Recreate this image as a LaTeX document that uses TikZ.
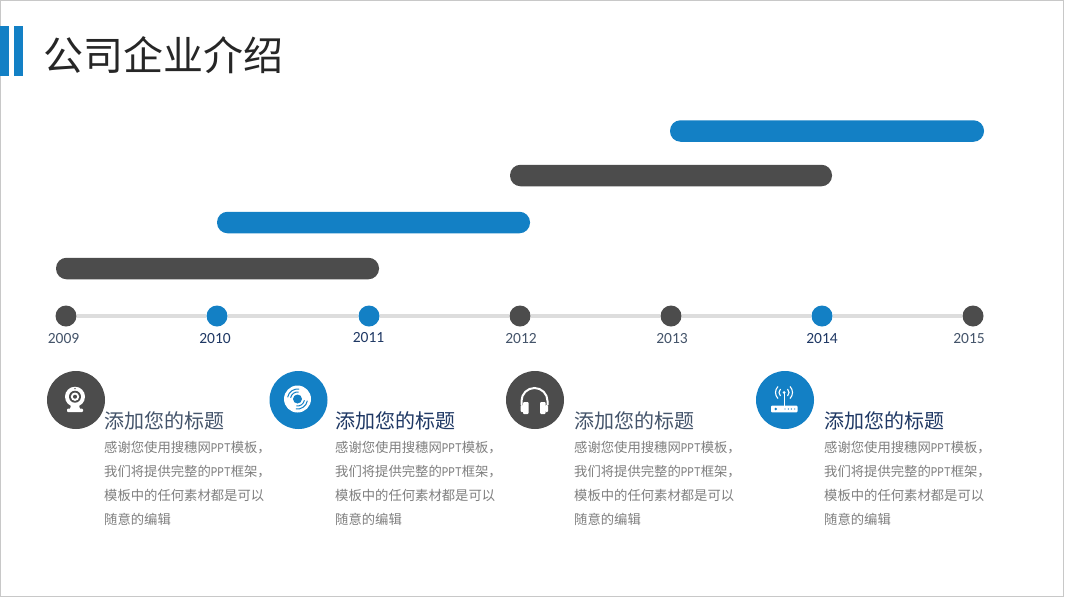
\documentclass[tikz,border=0pt]{standalone}
\usepackage{fontspec}
\setmainfont{Noto Sans CJK SC}
\newfontfamily\yearfont{Carlito}
\newfontfamily\latinmono{Liberation Mono}
\definecolor{myblue}{HTML}{1380C5}
\definecolor{mydark}{HTML}{4C4C4C}
\definecolor{myline}{HTML}{DDDDDD}
\definecolor{myframe}{HTML}{C8C8C8}
\definecolor{mytitle}{HTML}{44546A}
\definecolor{mynavy}{HTML}{1F3864}
\definecolor{mybody}{HTML}{7F7F7F}
\newcommand{\ppt}{\scalebox{.83}[1]{\latinmono\fontsize{13.33}{13.33}\selectfont PPT}}
\newcommand{\bodytext}{感谢您使用搜穗网\ppt 模板，\\我们将提供完整的\ppt 框架，\\模板中的任何素材都是可以\\随意的编辑}
\begin{document}
\begin{tikzpicture}[x=1pt, y=-1pt,
	bar/.style={rounded corners=10.5pt, inner sep=0pt, minimum height=21.5pt},
	dot/.style={circle, inner sep=0pt, minimum width=21pt},
	year/.style={inner sep=0pt, font=\yearfont\fontsize{15.5}{15.5}\selectfont},
	badge/.style={circle, inner sep=0pt, minimum width=58pt},
	heading/.style={anchor=west, inner sep=0pt, font=\fontsize{20}{20}\selectfont},
	body/.style={anchor=north west, inner sep=0pt, align=left, text=mybody, font=\fontsize{13.33}{24}\selectfont},
	icon/.style={white, line width=1.2pt}]

	\useasboundingbox (0,0) rectangle (1067,600);
	\fill[white] (0,0) rectangle (1067,600);
	\draw[myframe, line width=1pt] (0.5,0.5) rectangle (1063.5,596.5);

	% header
	\fill[myblue] (0,26) rectangle (9,76);
	\fill[myblue] (13.5,26) rectangle (22.5,76);
	\node[anchor=west, inner sep=0pt, text=black!85, font=\fontsize{40}{40}\selectfont] (head) at (43.5,55) {公司企业介绍};

	% bars
	\node[bar, fill=myblue, minimum width=314pt] (bar4) at (827,131) {};
	\node[bar, fill=mydark, minimum width=322pt] (bar3) at (671,175.5) {};
	\node[bar, fill=myblue, minimum width=313pt] (bar2) at (373.5,222.5) {};
	\node[bar, fill=mydark, minimum width=323pt] (bar1) at (217.5,268.5) {};

	% timeline
	\node[dot, fill=mydark] (d2009) at (66,316) {};
	\node[dot, fill=myblue] (d2010) at (217,316) {};
	\node[dot, fill=myblue] (d2011) at (369,316) {};
	\node[dot, fill=mydark] (d2012) at (520,316) {};
	\node[dot, fill=mydark] (d2013) at (671,316) {};
	\node[dot, fill=myblue] (d2014) at (822,316) {};
	\node[dot, fill=mydark] (d2015) at (973,316) {};
	\draw[myline, line width=4pt] (d2009) -- (d2010);
	\draw[myline, line width=4pt] (d2010) -- (d2011);
	\draw[myline, line width=4pt] (d2011) -- (d2012);
	\draw[myline, line width=4pt] (d2012) -- (d2013);
	\draw[myline, line width=4pt] (d2013) -- (d2014);
	\draw[myline, line width=4pt] (d2014) -- (d2015);

	\node[year, text=mytitle] (y2009) at (63.5,339) {2009};
	\node[year, text=mynavy] (y2010) at (215,339) {2010};
	\node[year, text=mynavy] (y2011) at (368.5,338) {2011};
	\node[year, text=mytitle] (y2012) at (521,339) {2012};
	\node[year, text=mytitle] (y2013) at (672,339) {2013};
	\node[year, text=mynavy] (y2014) at (822,339) {2014};
	\node[year, text=mytitle] (y2015) at (969,339) {2015};

	% badges
	\node[badge, fill=mydark] (b1) at (76,400) {};
	\node[badge, fill=myblue] (b2) at (298.5,400) {};
	\node[badge, fill=mydark] (b3) at (535,400) {};
	\node[badge, fill=myblue] (b4) at (785,400) {};

	% webcam
	\fill[white] (75,396.7) circle (10);
	\fill[mydark] (75,396.7) circle (6);
	\fill[white] (75,396.7) circle (4.2);
	\fill[mydark] (75,396.7) circle (2);
	\fill[mydark] (75,388.6) circle (0.8);
	\fill[white] (71,405) -- (79,405) -- (80,409) -- (70,409) -- cycle;
	\fill[white, rounded corners=1pt] (67,408.5) rectangle (83,412);

	% disc
	\fill[white] (297.5,399) circle (13.5);
	\fill[myblue] (297.5,399) circle (4.5);
	\foreach \r in {7,10} {
		\draw[myblue, line width=1pt] (297.5,399) ++(190:\r) arc (190:280:\r);
		\draw[myblue, line width=1pt] (297.5,399) ++(10:\r) arc (10:100:\r);
	}

	% headphones
	\draw[icon, line width=2pt] (521.5,405) -- (521.5,401) arc (180:360:13) -- (547.5,405);
	\fill[white, rounded corners=1pt] (523,402) rectangle (528.5,414);
	\fill[white, rounded corners=1pt] (540,402) rectangle (545.5,414);
	\fill[white, rounded corners=1pt] (520.7,405) rectangle (523.5,412);
	\fill[white, rounded corners=1pt] (545,405) rectangle (548,412);

	% router
	\fill[white, rounded corners=1pt] (771,405.7) rectangle (797.5,412.3);
	\draw[icon, line width=1pt] (784,405.7) -- (784,392);
	\fill[white] (784,392.5) circle (1.5);
	\foreach \r in {5,8.5} {
		\draw[icon, line width=1.1pt] (784,392.5) ++(-45:\r) arc (-45:45:\r);
		\draw[icon, line width=1.1pt] (784,392.5) ++(135:\r) arc (135:225:\r);
	}
	\fill[myblue] (775.7,409) circle (1.3);
	\foreach \x in {785,788.3,791.4,794.7} {
		\fill[myblue] (\x,409) circle (0.7);
	}

	% texts
	\node[heading, text=mytitle] (t1) at (104,421) {添加您的标题};
	\node[heading, text=mynavy] (t2) at (335,421) {添加您的标题};
	\node[heading, text=mytitle] (t3) at (574,421) {添加您的标题};
	\node[heading, text=mynavy] (t4) at (824,421) {添加您的标题};
	\node[body] (c1) at (104,441) {\bodytext};
	\node[body] (c2) at (335,441) {\bodytext};
	\node[body] (c3) at (574,441) {\bodytext};
	\node[body] (c4) at (824,441) {\bodytext};
\end{tikzpicture}
\end{document}
